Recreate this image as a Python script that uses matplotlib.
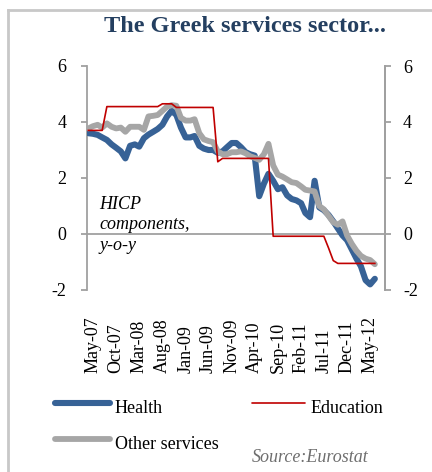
import matplotlib
matplotlib.use("Agg")
import matplotlib.pyplot as plt
import matplotlib.transforms as mtransforms
from matplotlib.lines import Line2D
import pandas as pd

plt.rcParams["font.family"] = ["Liberation Serif", "DejaVu Serif"]

# Monthly HICP components, y-o-y %, Apr-2007 .. Jun-2012
months = pd.date_range("2007-04-01", "2012-06-01", freq="MS")

health = [3.60, 3.58, 3.54, 3.45, 3.36, 3.20, 3.08, 2.95, 2.70,
          3.15, 3.20, 3.12, 3.42, 3.55, 3.65, 3.75, 3.90, 4.20, 4.40,
          4.25, 3.80, 3.45, 3.45, 3.50, 3.15, 3.05, 3.00, 3.00, 2.90,
          2.95, 3.10, 3.25, 3.25, 3.10, 2.92, 2.85, 2.80, 1.35, 1.80,
          2.15, 1.90, 1.60, 1.67, 1.38, 1.25, 1.20, 1.10, 0.75, 0.60,
          1.90, 0.95, 0.85, 0.68, 0.45, 0.20, -0.05, -0.22, -0.55, -0.88,
          -1.15, -1.65, -1.80, -1.60]

education = [3.70, 3.70, 3.70, 3.70, 4.55,
             4.55, 4.55, 4.55, 4.55, 4.55, 4.55, 4.55, 4.55, 4.55, 4.55,
             4.55, 4.65, 4.65, 4.65, 4.52, 4.52, 4.52, 4.52, 4.52, 4.52,
             4.52, 4.52, 4.52, 2.58, 2.70, 2.70, 2.70, 2.70, 2.70, 2.70,
             2.70, 2.70, 2.70, 2.70, 2.70, -0.08, -0.08, -0.08, -0.08, -0.08,
             -0.08, -0.08, -0.08, -0.08, -0.08, -0.08, -0.08, -0.50, -0.95, -1.05,
             -1.05, -1.05, -1.05, -1.05, -1.05, -1.05, -1.05, -1.05]

other_services = [3.77, 3.85, 3.90, 3.80, 3.95, 3.83, 3.77, 3.80, 3.65,
                  3.83, 3.83, 3.83, 3.72, 4.20, 4.22, 4.25, 4.40, 4.55, 4.60,
                  4.58, 4.15, 4.05, 4.05, 4.10, 3.60, 3.38, 3.32, 3.28, 2.95,
                  2.85, 2.85, 2.92, 2.92, 2.95, 2.88, 2.78, 2.72, 2.65, 2.85,
                  3.22, 2.45, 2.12, 2.05, 1.95, 1.85, 1.82, 1.70, 1.58, 1.55,
                  1.52, 1.00, 0.88, 0.65, 0.42, 0.33, 0.45, -0.05, -0.35, -0.60,
                  -0.78, -0.88, -0.93, -1.08]

series_names = ["Health", "Education", "Other services"]
tick_labels = ["May-07", "Oct-07", "Mar-08", "Aug-08", "Jan-09", "Jun-09",
               "Nov-09", "Apr-10", "Sep-10", "Feb-11", "Jul-11", "Dec-11", "May-12"]
y_ticks = [-2, 0, 2, 4, 6]

BLUE = "#376296"
RED = "#C00000"
GREY = "#A6A6A6"
AXIS = "#A0A0A0"
TITLE = "#243F60"

W, H = 432, 472
fig = plt.figure(figsize=(W / 100, H / 100), dpi=100)


def fx(px):
    return px / W


def fy(py):
    return 1 - py / H


ax = fig.add_axes([fx(87), fy(290), fx(385) - fx(87), fy(66) - fy(290)])

ax.plot(months, health, color=BLUE, lw=4.4, solid_joinstyle="round",
        solid_capstyle="round", zorder=3)
ax.plot(months, other_services, color=GREY, lw=4.2, solid_joinstyle="round",
        solid_capstyle="round", zorder=4)
ax.plot(months, education, color=RED, lw=1.2, zorder=5)

ax.set_ylim(-2, 6)
ax.set_xlim(pd.Timestamp("2007-03-23"), pd.Timestamp("2012-08-07"))
ax.axhline(0, color=AXIS, lw=1.3, zorder=2)

for side in ("top", "bottom"):
    ax.spines[side].set_visible(False)
for side in ("left", "right"):
    ax.spines[side].set_color(AXIS)
    ax.spines[side].set_linewidth(1.3)

ax.set_yticks(y_ticks)
ax.set_yticklabels([str(v) for v in y_ticks])
ax.tick_params(axis="y", direction="out", length=4, width=1.3, color=AXIS,
               labelsize=13, pad=11)

ax2 = ax.twinx()
ax2.set_ylim(ax.get_ylim())
ax2.set_yticks(y_ticks)
ax2.set_yticklabels([str(v) for v in y_ticks])
ax2.tick_params(axis="y", direction="out", length=4, width=1.3, color=AXIS,
                labelsize=13, pad=9)
for side in ("top", "bottom", "left"):
    ax2.spines[side].set_visible(False)
ax2.spines["right"].set_color(AXIS)
ax2.spines["right"].set_linewidth(1.3)

# Rotated date labels, bottom-aligned below the plot
tick_dates = pd.to_datetime(tick_labels, format="%b-%y")
ax.set_xticks(tick_dates)
ax.set_xticklabels([])
ax.tick_params(axis="x", length=0)
trans = mtransforms.blended_transform_factory(ax.transData, fig.transFigure)
for d, lab in zip(tick_dates, tick_labels):
    ax.text(d, fy(373), lab, rotation=90, ha="center", va="bottom",
            fontsize=13, transform=trans)

# Title and in-plot annotation
fig.text(fx(245), fy(27), "The Greek services sector...", ha="center",
         va="center", fontsize=17.5, fontweight="bold", color=TITLE)
for txt, base in zip(["HICP", "components,", "y-o-y"], [209, 229, 250]):
    fig.text(fx(99), fy(base), txt, ha="left", va="baseline",
             fontsize=13, style="italic", color="black")

# Legend
legend_items = [
    (series_names[0], BLUE, 4.4, 55, 110, 403, 115, 413),
    (series_names[1], RED, 1.2, 252, 305, 403, 311, 413),
    (series_names[2], GREY, 4.2, 55, 110, 439, 115, 449),
]
for name, col, lw, x0, x1, yl, xt, yt in legend_items:
    fig.add_artist(Line2D([fx(x0), fx(x1)], [fy(yl), fy(yl)], color=col,
                          lw=lw, solid_capstyle="round"))
    fig.text(fx(xt), fy(yt), name, ha="left", va="baseline", fontsize=13)

fig.text(fx(252), fy(462), "Source:Eurostat", ha="left", va="baseline",
         fontsize=13, style="italic", color="#6E6E6E")

# Chart frame
fig.add_artist(Line2D([fx(7.5), fx(7.5)], [0, fy(10)], color="#C8C8C8", lw=2))
fig.add_artist(Line2D([fx(7.5), 1], [fy(10), fy(10)], color="#C8C8C8", lw=2))

fig.savefig("out.png", dpi=100)
